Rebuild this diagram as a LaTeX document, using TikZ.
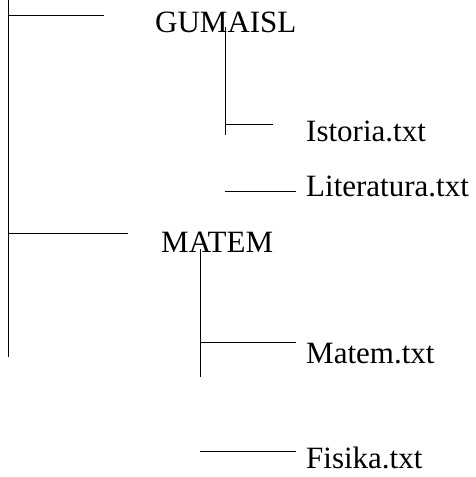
\documentclass[tikz,border=0pt]{standalone}
\usepackage{fontspec}
\setmainfont{Liberation Serif}
\begin{document}
\begin{tikzpicture}[x=1pt,y=-1pt,
  label/.style={anchor=base west,inner sep=0pt,font=\fontsize{31}{36}\selectfont},
  wire/.style={line width=1pt,black}]
\useasboundingbox (0,0) rectangle (476,477);
% folder and file names
\node[label] (gum) at (155,32) {GUMAISL};
\node[label] (ist) at (306,141) {Istoria.txt};
\node[label] (lit) at (306,196) {Literatura.txt};
\node[label] (mat) at (161,252) {MATEM};
\node[label] (mtx) at (306,363) {Matem.txt};
\node[label] (fis) at (306,468) {Fisika.txt};
% root trunk
\coordinate (r0) at (8,0);
\coordinate (r1) at (8,357);
\coordinate (gb) at (104,15);
\coordinate (mb) at (128,233);
\draw[wire] (r0) -- (r1);
\draw[wire] (8,15) -- (gb);
\draw[wire] (8,233) -- (mb);
% GUMAISL branch
\coordinate (g0) at (225,27);
\coordinate (g1) at (225,135);
\coordinate (ie) at (273,124);
\coordinate (ls) at (225,191);
\coordinate (le) at (296,191);
\draw[wire] (g0) -- (g1);
\draw[wire] (225,124) -- (ie);
\draw[wire] (ls) -- (le);
% MATEM branch
\coordinate (m0) at (200,249);
\coordinate (m1) at (200,377);
\coordinate (me) at (296,342);
\coordinate (fs) at (200,451);
\coordinate (fe) at (296,451);
\draw[wire] (m0) -- (m1);
\draw[wire] (200,342) -- (me);
\draw[wire] (fs) -- (fe);
\end{tikzpicture}
\end{document}
